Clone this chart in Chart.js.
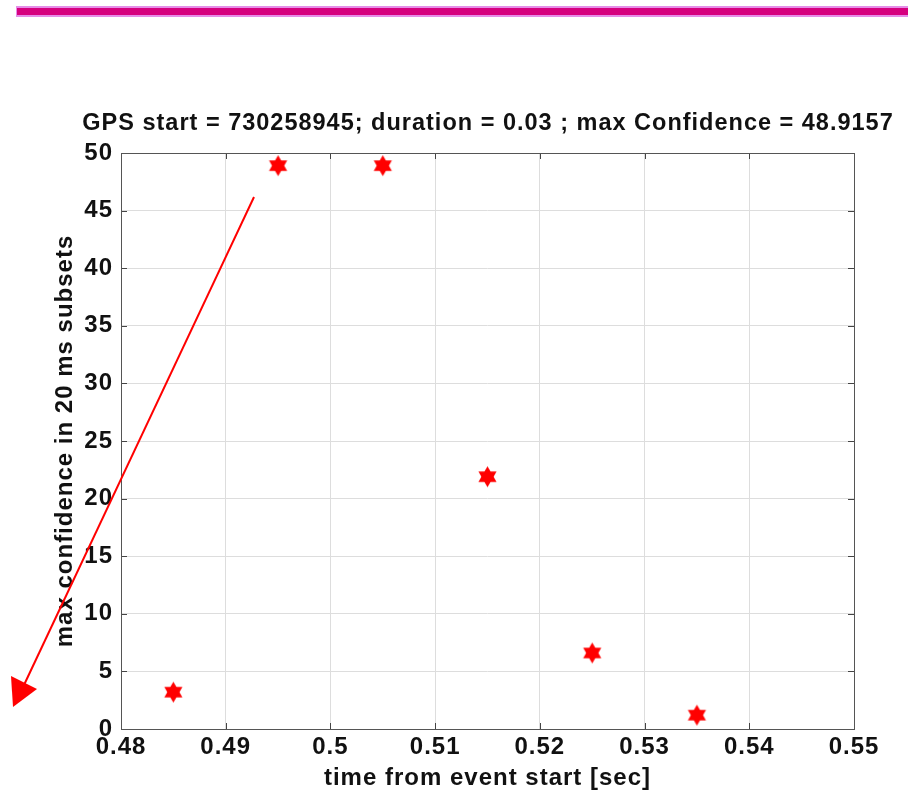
<!DOCTYPE html>
<html>
<head>
<meta charset="utf-8">
<script src="https://cdn.jsdelivr.net/npm/chart.js@4/dist/chart.umd.min.js"></script>
<style>
  html, body { margin: 0; padding: 0; background: #ffffff; }
  #wrap { position: relative; width: 908px; height: 796px; overflow: hidden; background:#fff; }
  #bar { position: absolute; left: 16px; top: 6px; width: 892px; height: 7px; background: #d6007f;
         border-top: 2px solid #e58de8; border-bottom: 2px solid #e58de8; border-left: 1px solid #e58de8; }
  canvas { position: absolute; left: 0; top: 0; }
  #arrow { position: absolute; left: 0; top: 0; pointer-events: none; }
</style>
</head>
<body>
<div id="wrap">
  <canvas id="c" width="908" height="796"></canvas>
  <div id="bar"></div>
  <svg id="arrow" width="908" height="796">
    <line x1="254" y1="197" x2="24" y2="685" stroke="#ff0000" stroke-width="2"/>
    <polygon points="13,707 11,676 37,689" fill="#ff0000"/>
  </svg>
</div>
<script>
// ---- data ----
const timeValues = [0.485, 0.495, 0.505, 0.515, 0.525, 0.535];
const confidenceValues = [3.2, 48.9, 48.9, 21.9, 6.6, 1.2];
const xTickLabels = ['0.48', '0.49', '0.5', '0.51', '0.52', '0.53', '0.54', '0.55'];
const yTickLabels = ['0', '5', '10', '15', '20', '25', '30', '35', '40', '45', '50'];
const titleText = 'GPS start = 730258945; duration = 0.03 ; max Confidence = 48.9157';
const xTitle = 'time from event start [sec]';
const yTitle = 'max confidence in 20 ms subsets';

// hexagram marker
function makeHexagram(R, color) {
  const s = Math.ceil(R * 2 + 2);
  const cv = document.createElement('canvas');
  cv.width = s; cv.height = s;
  const g = cv.getContext('2d');
  const cx = s / 2, cy = s / 2;
  g.fillStyle = color;
  for (let t = 0; t < 2; t++) {
    g.beginPath();
    for (let k = 0; k < 3; k++) {
      const a = -Math.PI / 2 + t * Math.PI + k * 2 * Math.PI / 3;
      const px = cx + R * Math.cos(a), py = cy + R * Math.sin(a);
      if (k === 0) g.moveTo(px, py); else g.lineTo(px, py);
    }
    g.closePath();
    g.fill();
  }
  return cv;
}
const marker = makeHexagram(10.5, '#ff0000');

const FONT = '"Liberation Sans", Arial, Helvetica, sans-serif';

const spacingPlugin = {
  id: 'spacingPlugin',
  beforeLayout(chart) { chart.ctx.letterSpacing = '1px'; },
  beforeDraw(chart) { chart.ctx.letterSpacing = '1px'; }
};

const titlePlugin = {
  id: 'titlePlugin',
  afterDraw(chart) {
    const {ctx, chartArea: a} = chart;
    ctx.save();
    ctx.letterSpacing = '1px';
    ctx.font = 'bold 23.5px ' + FONT;
    ctx.fillStyle = '#111111';
    ctx.textAlign = 'center';
    ctx.textBaseline = 'alphabetic';
    ctx.fillText(titleText, (a.left + a.right) / 2 + 0.5, 130);
    ctx.restore();
  }
};

const boxPlugin = {
  id: 'boxPlugin',
  beforeDatasetsDraw(chart) {
    const {ctx, chartArea: a, scales} = chart;
    ctx.save();
    ctx.strokeStyle = '#444444';
    ctx.lineWidth = 1;
    ctx.beginPath();
    scales.x.ticks.forEach(t => {
      const px = Math.round(scales.x.getPixelForValue(t.value)) + 0.5;
      ctx.moveTo(px, a.bottom); ctx.lineTo(px, a.bottom - 6);
      ctx.moveTo(px, a.top); ctx.lineTo(px, a.top + 6);
    });
    scales.y.ticks.forEach(t => {
      const py = Math.round(scales.y.getPixelForValue(t.value)) + 0.5;
      ctx.moveTo(a.left, py); ctx.lineTo(a.left + 6, py);
      ctx.moveTo(a.right, py); ctx.lineTo(a.right - 6, py);
    });
    ctx.stroke();
    ctx.strokeStyle = '#555555';
    ctx.strokeRect(Math.round(a.left) + 0.5, Math.round(a.top) + 0.5,
                   Math.round(a.right - a.left), Math.round(a.bottom - a.top));
    ctx.restore();
  }
};

new Chart(document.getElementById('c'), {
  type: 'scatter',
  data: {
    datasets: [{
      data: timeValues.map((x, i) => ({x: x, y: confidenceValues[i]})),
      pointStyle: marker,
      pointRadius: 10,
      pointHoverRadius: 10,
      backgroundColor: '#ff0000',
      borderColor: '#ff0000'
    }]
  },
  options: {
    responsive: false,
    animation: false,
    events: [],
    layout: { padding: { left: 0, right: 54, top: 153, bottom: 0 } },
    plugins: {
      legend: { display: false },
      tooltip: { enabled: false },
      title: { display: false }
    },
    scales: {
      x: {
        type: 'linear',
        min: 0.48, max: 0.55,
        afterFit(s) { s.height = 67; },
        afterBuildTicks(s) { s.ticks = xTickLabels.map(v => ({value: parseFloat(v)})); },
        ticks: {
          callback: (v, i) => xTickLabels[i],
          color: '#111111',
          font: { family: FONT, size: 24, weight: 'bold' },
          padding: 4,
          maxRotation: 0,
          autoSkip: false
        },
        grid: { color: '#dddddd', lineWidth: 1, drawTicks: false },
        border: { display: false },
        title: {
          display: true,
          text: xTitle,
          color: '#111111',
          font: { family: FONT, size: 24, weight: 'bold' },
          padding: { top: 0, bottom: 3.6 }
        }
      },
      y: {
        type: 'linear',
        min: 0, max: 50,
        afterFit(s) { s.width = 121; },
        afterBuildTicks(s) { s.ticks = yTickLabels.map(v => ({value: parseFloat(v)})); },
        ticks: {
          callback: (v, i) => yTickLabels[i],
          color: '#111111',
          font: { family: FONT, size: 24, weight: 'bold' },
          padding: 8,
          autoSkip: false
        },
        grid: { color: '#dddddd', lineWidth: 1, drawTicks: false },
        border: { display: false },
        title: {
          display: true,
          text: yTitle,
          color: '#111111',
          font: { family: FONT, size: 24, weight: 'bold' },
          padding: { top: 50.5, bottom: 0 }
        }
      }
    }
  },
  plugins: [spacingPlugin, boxPlugin, titlePlugin]
});
</script>
</body>
</html>
